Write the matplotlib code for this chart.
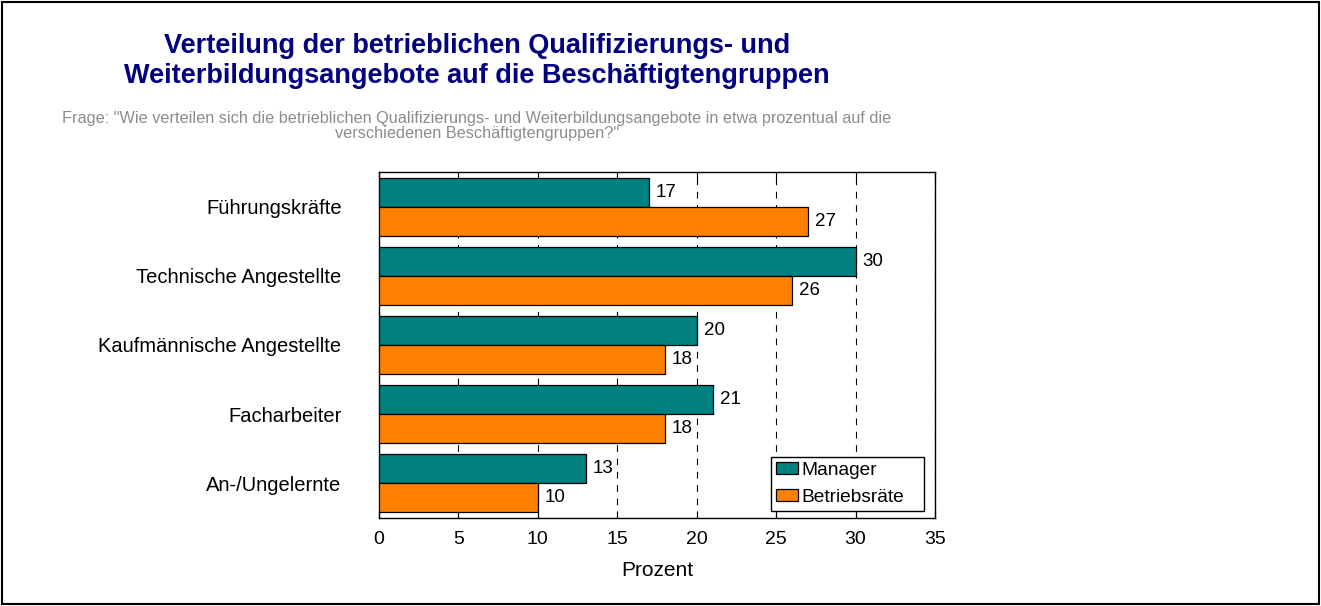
import matplotlib
matplotlib.use("Agg")
import matplotlib.pyplot as plt
import numpy as np

plt.rcParams['font.family'] = ['Liberation Sans', 'DejaVu Sans']

categories = ["Führungskräfte", "Technische Angestellte", "Kaufmännische Angestellte",
              "Facharbeiter", "An-/Ungelernte"]
manager = [17, 30, 20, 21, 13]
betriebsraete = [27, 26, 18, 18, 10]
series_names = ["Manager", "Betriebsräte"]
xticks = [0, 5, 10, 15, 20, 25, 30, 35]

title = "Verteilung der betrieblichen Qualifizierungs- und\nWeiterbildungsangebote auf die Beschäftigtengruppen"
subtitle = ('Frage: "Wie verteilen sich die betrieblichen Qualifizierungs- und Weiterbildungsangebote in etwa prozentual auf die\n'
            'verschiedenen Beschäftigtengruppen?"')

W, H = 1321, 606
fig = plt.figure(figsize=(W/100, H/100), dpi=100)
fig.patch.set_facecolor('white')

# figure border
fig.add_artist(plt.Rectangle((0.0015, 0.003), 0.997, 0.994, transform=fig.transFigure,
                             fill=False, edgecolor='black', linewidth=1.5))

ax = fig.add_axes([379/W, 88/H, 556/W, 346/H])

y = np.arange(len(categories))
h = 0.418
teal = '#008080'
orange = '#FF8000'
b1 = ax.barh(y - h/2, manager, height=h, color=teal, edgecolor='black', linewidth=0.9,
             label=series_names[0], zorder=3)
b2 = ax.barh(y + h/2, betriebsraete, height=h, color=orange, edgecolor='black', linewidth=0.9,
             label=series_names[1], zorder=3)

for bars, vals in ((b1, manager), (b2, betriebsraete)):
    for rect, v in zip(bars, vals):
        ax.annotate(f"{v}", xy=(v, rect.get_y() + rect.get_height()/2),
                    xytext=(5, 0), textcoords='offset points', va='center', ha='left',
                    fontsize=13.5, zorder=4)

ax.set_xlim(0, 35)
ax.set_ylim(len(categories) - 0.5, -0.5)
ax.set_xticks(xticks)
ax.set_xticklabels([str(t) for t in xticks], fontsize=14)
ax.set_yticks(y)
ax.set_yticklabels(categories, fontsize=14.5)
ax.tick_params(axis='y', length=0, pad=27)
ax.tick_params(axis='x', direction='in', top=True, length=5, pad=9, width=0.8)
ax.xaxis.grid(True, linestyle=(0, (6, 6)), color='black', linewidth=0.8, zorder=0)
ax.set_axisbelow(True)
for s in ax.spines.values():
    s.set_linewidth(1.0)
    s.set_color('black')

ax.set_xlabel("Prozent", fontsize=15, labelpad=10)

leg = ax.legend(loc='lower left', bbox_to_anchor=(0.705, 0.02, 0.275, 0.16), mode='expand',
                fontsize=13.8, frameon=True, fancybox=False, edgecolor='black', framealpha=1,
                handlelength=1.15, handleheight=0.6, handletextpad=0.16, borderpad=0.28,
                labelspacing=0.5, borderaxespad=0)
leg.get_frame().set_linewidth(1.0)

fig.text(477/W, 1 - 61/H, title, ha='center', va='center', fontsize=19.5, fontweight='bold',
         color='#000080', linespacing=1.2)
fig.text(477/W, 1 - 126/H, subtitle, ha='center', va='center', fontsize=11.7,
         color='#8c8c8c', linespacing=1.05)

fig.savefig("out.png", dpi=100, facecolor='white')
